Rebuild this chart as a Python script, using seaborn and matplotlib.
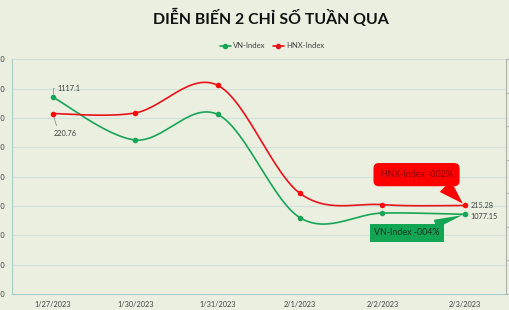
import numpy as np
import pandas as pd
import seaborn as sns
import matplotlib
matplotlib.use("Agg")
import matplotlib.pyplot as plt
from matplotlib.lines import Line2D

# ---------------- data ----------------
dates = ["1/27/2023", "1/30/2023", "1/31/2023", "2/1/2023", "2/2/2023", "2/3/2023"]
vn_index = [1117.1, 1102.5, 1111.2, 1076.0, 1077.6, 1077.15]
hnx_index = [220.76, 220.8, 222.45, 216.0, 215.33, 215.28]
vn_ticks = [1050, 1060, 1070, 1080, 1090, 1100, 1110, 1120, 1130]
hnx_ticks = [210, 212, 214, 216, 218, 220, 222, 224]
title = "DIỄN BIẾN 2 CHỈ SỐ TUẦN QUA"
vn_note = "VN-Index -004%"
hnx_note = "HNX-Index -002%"

BG = "#ebefdf"
GREEN = "#17a558"
RED = "#e8121b"
GRID = "#cfe2dc"
TXT = "#404040"
FONT = ["Lato", "DejaVu Sans"]

sns.set_style("white")
plt.rcParams["font.family"] = FONT


def excel_smooth(y, n=30):
    """Bezier smoothing through the points (same idea as Excel smoothed lines)."""
    x = np.arange(len(y), dtype=float)
    y = np.asarray(y, dtype=float)
    P = np.column_stack([x, y])
    out = []
    m = len(P)
    for i in range(m - 1):
        p_prev = P[i - 1] if i > 0 else P[i]
        p_next2 = P[i + 2] if i + 2 < m else P[i + 1]
        c1 = P[i] + (P[i + 1] - p_prev) / 6.0
        c2 = P[i + 1] - (p_next2 - P[i]) / 6.0
        t = np.linspace(0, 1, n, endpoint=(i == m - 2))[:, None]
        seg = ((1 - t) ** 3) * P[i] + 3 * ((1 - t) ** 2) * t * c1 + 3 * (1 - t) * t ** 2 * c2 + t ** 3 * P[i + 1]
        out.append(seg)
    out = np.vstack(out)
    return out[:, 0], out[:, 1]


W, H = 510, 310
fig = plt.figure(figsize=(W / 100, H / 100), dpi=100, facecolor=BG)
L, R, T, B = 11.7, 506.0, 59.3, 294.0
ax = fig.add_axes([L / W, 1 - B / H, (R - L) / W, (B - T) / H])
ax.set_facecolor(BG)
ax2 = ax.twinx()
ax2.patch.set_visible(False)

idx = np.arange(len(dates))

# VN-Index (left axis)
sx, sy = excel_smooth(vn_index)
df_vn = pd.DataFrame({"x": sx, "y": sy})
sns.lineplot(data=df_vn, x="x", y="y", ax=ax, color=GREEN, lw=1.2, sort=False, estimator=None)
sns.scatterplot(x=idx, y=vn_index, ax=ax, color=GREEN, s=16, edgecolor=GREEN, linewidth=0, zorder=5)

# HNX-Index (right axis)
hx, hy = excel_smooth(hnx_index)
df_hnx = pd.DataFrame({"x": hx, "y": hy})
sns.lineplot(data=df_hnx, x="x", y="y", ax=ax2, color=RED, lw=1.2, sort=False, estimator=None)
sns.scatterplot(x=idx, y=hnx_index, ax=ax2, color="#ff0a0a", s=16, edgecolor="#ff0a0a", linewidth=0, zorder=5)

# axes
ax.set_xlim(-0.5, len(dates) - 0.5)
ax.set_ylim(vn_ticks[0], vn_ticks[-1])
ax2.set_ylim(hnx_ticks[0], hnx_ticks[-1])
ax.set_xticks(idx)
ax.set_xticklabels(dates, fontsize=5.3, color=TXT)
ax.set_yticks(vn_ticks)
ax.set_yticklabels([f"{v:,}" for v in vn_ticks], fontsize=5.3, color=TXT)
ax2.set_yticks(hnx_ticks)
ax2.set_yticklabels([str(v) for v in hnx_ticks], fontsize=5.3, color=TXT)
ax.set_xlabel("")
ax.set_ylabel("")
ax2.set_xlabel("")
ax2.set_ylabel("")
ax.tick_params(axis="x", length=0, pad=5)
ax.tick_params(axis="y", length=0, pad=5)
ax2.tick_params(axis="y", length=2.5, width=0.6, color="#a8a8a8", direction="out", pad=3)
ax.grid(axis="y", color=GRID, lw=0.8)
ax.set_axisbelow(True)
for s in ["left", "bottom"]:
    ax.spines[s].set_color("#a9cccd")
    ax.spines[s].set_linewidth(0.8)
ax.spines["top"].set_visible(False)
ax.spines["right"].set_visible(False)
for s in ["left", "bottom", "top"]:
    ax2.spines[s].set_visible(False)
ax2.spines["right"].set_color("#b0b0b0")
ax2.spines["right"].set_linewidth(0.8)

# data labels
ax.annotate(f"{vn_index[0]}", xy=(0, vn_index[0]), xytext=(3.2, 6.5), textcoords="offset points",
            fontsize=5.3, color=TXT, ha="left", va="center",
            arrowprops=dict(arrowstyle="-", color="#808080", lw=0.5, shrinkA=0, shrinkB=2,
                            connectionstyle="angle,angleA=0,angleB=90,rad=0", relpos=(0, 0.5)))
ax2.annotate(f"{hnx_index[0]}", xy=(0, hnx_index[0]), xytext=(8.6, -14.5), textcoords="offset points",
             fontsize=5.3, color=TXT, ha="center", va="center",
             arrowprops=dict(arrowstyle="-", color="#808080", lw=0.5, shrinkA=1, shrinkB=2, relpos=(0.2, 1)))
ax2.annotate(f"{hnx_index[-1]}", xy=(5, hnx_index[-1]), xytext=(4.3, 0), textcoords="offset points",
             fontsize=5.3, color=TXT, ha="left", va="center")
ax.annotate(f"{vn_index[-1]}", xy=(5, vn_index[-1]), xytext=(4.3, -1.2), textcoords="offset points",
            fontsize=5.3, color=TXT, ha="left", va="center")

# callouts
ax2.annotate(hnx_note, xy=(5, hnx_index[-1]), xytext=(4.414, 217.12), textcoords="data",
             fontsize=6.4, color="#8a0000", ha="center", va="center", zorder=6,
             bbox=dict(boxstyle="round,pad=0.8,rounding_size=0.6", fc="#ff0000", ec="none"),
             arrowprops=dict(arrowstyle="wedge,tail_width=1.8,shrink_factor=0.5", fc="#ff0000", ec="none",
                             shrinkA=0, shrinkB=2, relpos=(0.8, 0.0)))
ax.annotate(vn_note, xy=(5, vn_index[-1]), xytext=(4.3, 1070.8), textcoords="data",
            fontsize=6.4, color="#1b3320", ha="center", va="center", zorder=6,
            bbox=dict(boxstyle="square,pad=0.5", fc="#12a553", ec="none"),
            arrowprops=dict(arrowstyle="wedge,tail_width=1.0,shrink_factor=0.5", fc="#12a553", ec="none",
                            shrinkA=0, shrinkB=2, relpos=(0.72, 1.0)))

# title and legend
fig.text(271 / W, 1 - 18 / H, title, ha="center", va="center", fontsize=11.4, fontweight="bold",
         color="#111111", family=FONT)
handles = [Line2D([0], [0], color=GREEN, lw=1.2, marker="o", ms=3),
           Line2D([0], [0], color=RED, lw=1.2, marker="o", ms=3)]
fig.legend(handles, ["VN-Index", "HNX-Index"], loc="center", bbox_to_anchor=(272 / W, 1 - 46 / H),
           ncol=2, frameon=False, fontsize=5.5, handlelength=1.4, handletextpad=0.3, columnspacing=1.0,
           labelcolor=TXT)

fig.savefig("out.png", dpi=100, facecolor=BG)
